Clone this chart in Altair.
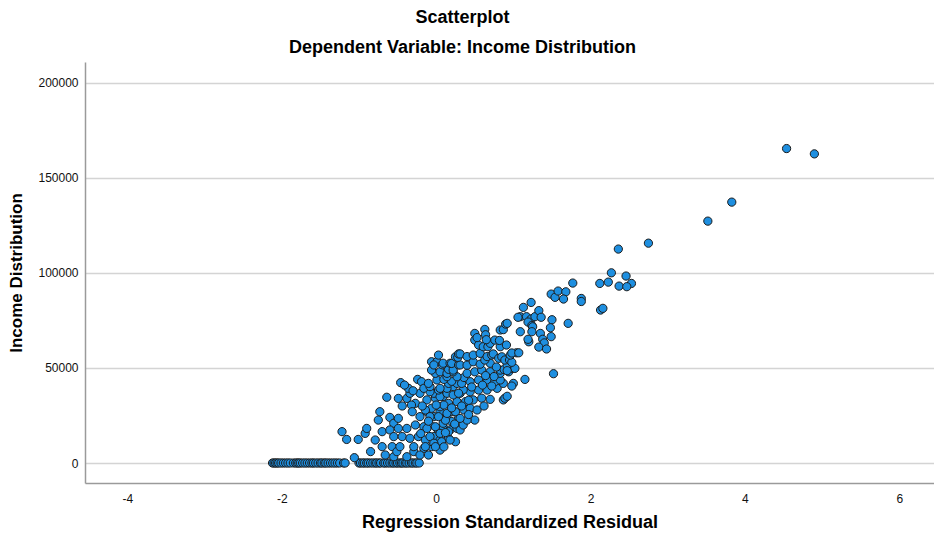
import altair as alt
import pandas as pd

# Residuals of cases with zero income (bottom row)
zero_resid = [-2.12, -2.10, -2.08, -2.06, -2.04, -2.01, -1.98, -1.95, -1.92, -1.89, -1.85,
              -1.82, -1.80, -1.78, -1.76, -1.73, -1.70, -1.67, -1.64, -1.61, -1.59, -1.56,
              -1.53, -1.50, -1.48, -1.45, -1.43, -1.40, -1.37, -1.34, -1.31, -1.28, -1.25,
              -1.20, -1.18, -1.00, -0.98, -0.95, -0.93, -0.90, -0.88, -0.85, -0.82, -0.79,
              -0.77, -0.74, -0.72, -0.68, -0.66, -0.63, -0.60, -0.57, -0.55, -0.52, -0.50,
              -0.47, -0.45, -0.43, -0.40, -0.38, -0.35, -0.32, -0.30, -0.27, -0.25, -0.22]

# (standardized residual, income) pairs
left_pts = [(-1.22, 16500), (-1.16, 12400), (-1.06, 2800), (-1.01, 12400), (-0.92, 15600),
            (-0.90, 18200), (-0.85, 6000), (-0.79, 12100), (-0.70, 16500), (-0.75, 22600),
            (-0.73, 27000), (-0.64, 34600), (-0.60, 24000), (-0.55, 20900), (-0.60, 17400),
            (-0.55, 13900), (-0.70, 8600), (-0.57, 8600), (-0.66, 4200), (-0.55, 3300),
            (-0.51, 6000), (-0.44, 13900), (-0.49, 18200), (-0.49, 23500), (-0.44, 30000),
            (-0.49, 34000), (-0.46, 42300), (-0.38, 34000), (-0.34, 36700), (-0.36, 39300),
            (-0.24, 44000), (-0.19, 42800), (-0.21, 36700), (-0.27, 31400), (-0.32, 30500),
            (-0.47, 8600), (-0.38, 3300), (-0.29, 6000), (-0.41, 41000), (-0.30, 38000)]

core_low = [(-0.31, 27000), (-0.21, 24400), (-0.12, 27000), (-0.03, 24400), (0.05, 27000),
            (0.14, 24400), (0.22, 27000), (0.29, 23500), (-0.38, 18200), (-0.27, 20000),
            (-0.16, 19100), (-0.08, 20000), (0.01, 18200), (0.09, 19100), (0.18, 17400),
            (0.27, 18200), (-0.34, 13000), (-0.23, 13900), (-0.14, 12100), (-0.03, 13900),
            (0.05, 12100), (0.16, 13000), (0.25, 11200), (-0.29, 8600), (-0.16, 7700),
            (-0.06, 8600), (0.05, 6800), (-0.21, 4200), (-0.10, 4200), (-0.08, 13900),
            (0.05, 15600), (0.16, 16500), (0.31, 17400), (0.18, 12100), (0.07, 11200),
            (-0.03, 10400), (-0.01, 8600), (-0.14, 8600), (0.12, 16000), (-0.20, 15500),
            (0.10, 8500), (0.20, 21800), (0.09, 20900), (-0.01, 19100), (-0.12, 18200),
            (0.12, 22500), (0.24, 20500), (0.35, 20000)]

core_mid = [(-0.08, 24400), (0.03, 24400), (0.14, 26100), (0.25, 27000), (0.36, 27900),
            (0.44, 28800), (0.53, 27900), (0.50, 22600), (0.40, 22600), (0.31, 23500),
            (0.42, 25500), (-0.10, 22000), (-0.06, 28800), (-0.14, 27900), (0.05, 29600),
            (0.16, 31400), (0.27, 32300), (0.38, 32300), (0.48, 33200), (0.59, 34100),
            (0.70, 33500), (0.87, 33200), (0.89, 34100), (0.92, 35100), (-0.12, 33200),
            (-0.01, 34100), (0.09, 35000), (0.31, 36700), (0.44, 37500), (0.55, 38400),
            (0.66, 38400), (0.79, 39300), (0.10, 30500), (0.20, 29000), (0.33, 30000),
            (0.42, 33000), (0.35, 38500), (0.00, 30500), (-0.18, 30000), (0.62, 30000),
            (-0.03, 36700), (0.05, 34900), (0.14, 36700), (0.22, 35800), (0.29, 36700),
            (0.03, 38400), (-0.08, 37500), (-0.16, 39300)]

core_up = [(0.22, 40200), (0.14, 39300), (0.05, 39300), (-0.08, 40200), (0.01, 43700),
           (0.16, 41900), (0.27, 41900), (0.33, 41900), (0.44, 42800), (0.55, 43700),
           (0.66, 43700), (0.76, 42800), (0.87, 41900), (1.00, 41900), (0.98, 40500),
           (0.83, 43700), (0.46, 40000), (0.60, 41000), (0.72, 40500), (-0.10, 41900),
           (0.10, 44000), (0.20, 43000), (0.36, 45000), (0.14, 45400), (0.27, 45400),
           (0.40, 47200), (0.50, 48000), (0.59, 48900), (0.70, 48000), (0.83, 47200),
           (0.94, 48000), (0.64, 46000), (0.75, 45500), (-0.01, 47200), (0.05, 48000),
           (0.14, 47200), (0.22, 48000), (-0.06, 48900), (0.16, 49300), (0.22, 48900),
           (0.83, 48900), (0.88, 49200), (0.98, 49700), (0.92, 51500), (1.02, 49800),
           (0.92, 48600)]

core_top = [(-0.06, 53300), (0.01, 53300), (-0.03, 51600), (0.08, 51700), (0.09, 52500),
            (0.18, 52500), (0.20, 52400), (0.29, 51600), (0.31, 51600), (0.40, 51500),
            (0.48, 53300), (0.57, 52000), (0.70, 52500), (0.78, 50500), (0.63, 54200),
            (0.03, 56800), (0.25, 55900), (0.28, 55600), (0.29, 57400), (0.31, 57400),
            (0.40, 56000), (0.48, 56800), (0.57, 57700), (0.66, 56000), (0.72, 56800),
            (0.74, 57400), (0.81, 55100), (0.85, 55900), (0.89, 54200), (0.95, 54200),
            (0.98, 53000), (0.96, 56800), (1.04, 58000), (0.98, 57900), (1.07, 58000)]

upper_pts = [(0.50, 64700), (0.55, 62100), (0.61, 61200), (0.67, 61200), (0.70, 63000),
             (0.76, 64700), (0.83, 61200), (0.91, 62100), (0.50, 68200), (0.53, 66000),
             (0.63, 70300), (0.64, 67500), (0.65, 64900), (0.82, 64500), (0.83, 70000),
             (0.87, 70200), (0.90, 73100), (0.92, 73500), (1.20, 63800)]

right_pts = [(1.13, 81900), (1.23, 84500), (1.09, 77000), (1.06, 76700), (1.17, 77000),
             (1.23, 75800), (1.28, 77000), (1.33, 80200), (1.36, 76700), (1.50, 75400),
             (1.19, 74200), (1.24, 72400), (1.25, 71700), (1.71, 73500), (1.09, 69100),
             (1.24, 69100), (1.35, 68200), (1.48, 71200), (1.49, 66500), (1.19, 65100),
             (1.38, 65100), (1.40, 63200), (1.33, 61000), (1.43, 60000), (1.52, 47000),
             (1.15, 44000), (1.49, 88900), (1.54, 87200), (1.58, 90500), (1.68, 90100),
             (1.65, 86300), (1.77, 94700), (1.88, 86600), (1.88, 85000), (2.12, 94500),
             (2.23, 95200), (2.27, 100100), (2.46, 98400), (2.53, 94500), (2.37, 93100),
             (2.47, 92800), (2.13, 80500), (2.16, 81400), (2.36, 112600), (2.75, 115700),
             (3.52, 127300), (3.83, 137300), (4.54, 165500), (4.90, 162700)]

x_ticks = [-4, -2, 0, 2, 4, 6]
y_ticks = [0, 50000, 100000, 150000, 200000]

pairs = [(r, 0) for r in zero_resid]
for grp in (left_pts, core_low, core_mid, core_up, core_top, upper_pts, right_pts):
    pairs.extend(grp)
df = pd.DataFrame(pairs, columns=["resid", "income"])

FONT = "Liberation Sans"

chart = alt.Chart(df).mark_circle(
    size=68, color="#1e8fe0", opacity=1, stroke="#1c1c1c", strokeWidth=1
).encode(
    x=alt.X("resid:Q",
            scale=alt.Scale(domain=[-4.55, 6.45], nice=False, zero=False),
            axis=alt.Axis(values=x_ticks, grid=False, ticks=False, tickSize=0,
                          labelPadding=10, labelExpr="toString(datum.value)",
                          title="Regression Standardized Residual",
                          titleFontSize=18, titlePadding=9)),
    y=alt.Y("income:Q",
            scale=alt.Scale(domain=[-10526, 211050], nice=False, zero=False),
            axis=alt.Axis(values=y_ticks, grid=True, ticks=False, tickSize=0,
                          labelPadding=7, labelExpr="toString(datum.value)",
                          title="Income Distribution", titleFontSize=17,
                          titlePadding=12)),
).properties(
    width=849,
    height=421,
    autosize=alt.AutoSizeParams(type="none"),
    padding={"left": 77, "top": 54, "right": 0, "bottom": 52},
    title=alt.TitleParams(
        text=["Scatterplot", "Dependent Variable: Income Distribution"],
        font=FONT, fontSize=18, fontWeight="bold", color="#000000",
        lineHeight=30, anchor="middle", dx=-47, offset=5,
    ),
).configure_view(
    stroke=None
).configure_axis(
    labelFont=FONT, labelFontSize=12, labelColor="#111111",
    titleFont=FONT, titleFontWeight="bold", titleColor="#000000",
    domainColor="#9a9a9a", domainWidth=1.5,
    gridColor="#d4d4d4", gridWidth=1.5,
)

chart.save("out.html", embed_options={"renderer": "svg", "actions": False})
